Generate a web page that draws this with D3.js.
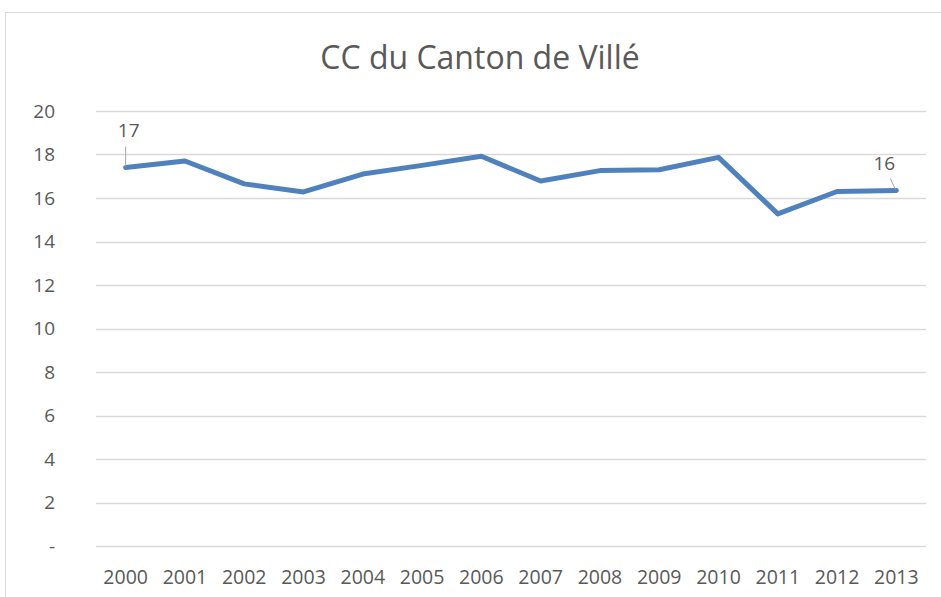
<!DOCTYPE html>
<html>
<head>
<meta charset="utf-8">
<script src="https://cdn.jsdelivr.net/npm/d3@7"></script>
<style>
  body { margin: 0; background: #fff; }
  text { font-family: "Open Sans", "Noto Sans", sans-serif; fill: #595959; }
</style>
</head>
<body>
<svg id="chart"></svg>
<script>
// Data
const years = ['2000', '2001', '2002', '2003', '2004', '2005', '2006',
               '2007', '2008', '2009', '2010', '2011', '2012', '2013'];
const values = [17.4, 17.7, 16.65, 16.28, 17.1, 17.5, 17.92,
                16.78, 17.26, 17.3, 17.87, 15.27, 16.3, 16.35];
const yTicks = [0, 2, 4, 6, 8, 10, 12, 14, 16, 18, 20];
const title = 'CC du Canton de Villé';

const W = 941, H = 597;
const margin = { top: 111, right: 15, bottom: 51, left: 96 };
const width = W - margin.left - margin.right;
const height = H - margin.top - margin.bottom;

const svg = d3.select('#chart')
    .attr('width', W)
    .attr('height', H);

// chart border
svg.append('rect')
    .attr('x', 5.5).attr('y', 12.5)
    .attr('width', 950).attr('height', 600)
    .attr('fill', 'none')
    .attr('stroke', '#d9d9d9');

svg.append('text')
    .attr('x', 480).attr('y', 69)
    .attr('text-anchor', 'middle')
    .style('font-size', '32px')
    .text(title);

const g = svg.append('g')
    .attr('transform', `translate(${margin.left},${margin.top})`);

const x = d3.scaleBand()
    .domain(years)
    .range([0, width]);

const y = d3.scaleLinear()
    .domain([0, 20])
    .range([height, 0]);

// gridlines
g.append('g')
    .selectAll('line')
    .data(yTicks)
    .join('line')
    .attr('x1', 0).attr('x2', width)
    .attr('y1', d => Math.round(y(d)) + 0.5)
    .attr('y2', d => Math.round(y(d)) + 0.5)
    .attr('stroke', '#d9d9d9')
    .attr('stroke-width', 1.5);

// y axis labels
const yAxis = g.append('g')
    .call(d3.axisLeft(y).tickValues(yTicks).tickSize(0).tickPadding(41)
        .tickFormat(d => d === 0 ? '-' : d));
yAxis.select('.domain').remove();
yAxis.selectAll('text')
    .style('font-size', '19px')
    .attr('fill', '#595959');

// x axis labels
const xAxis = g.append('g')
    .attr('transform', `translate(0,${height})`)
    .call(d3.axisBottom(x).tickSize(0).tickPadding(24));
xAxis.select('.domain').remove();
xAxis.selectAll('text')
    .style('font-size', '19.5px')
    .attr('fill', '#595959');

const cx = d => x(d) + x.bandwidth() / 2;

const line = d3.line()
    .x((d, i) => cx(years[i]))
    .y(d => y(d));

g.append('path')
    .datum(values)
    .attr('d', line)
    .attr('fill', 'none')
    .attr('stroke', '#4f81bd')
    .attr('stroke-width', 5)
    .attr('stroke-linejoin', 'round')
    .attr('stroke-linecap', 'round');

// data labels on the first and last points
const first = 0, last = values.length - 1;

g.append('line')
    .attr('x1', cx(years[first])).attr('y1', y(values[first]) - 1)
    .attr('x2', cx(years[first])).attr('y2', y(values[first]) - 21)
    .attr('stroke', '#a6a6a6').attr('stroke-width', 1);
g.append('text')
    .attr('x', cx(years[first]) + 3).attr('y', y(values[first]) - 31)
    .attr('text-anchor', 'middle')
    .style('font-size', '19px')
    .text(Math.round(values[first]));

g.append('line')
    .attr('x1', cx(years[last]) - 1).attr('y1', y(values[last]) - 1)
    .attr('x2', cx(years[last]) - 6).attr('y2', y(values[last]) - 12)
    .attr('stroke', '#a6a6a6').attr('stroke-width', 1);
g.append('text')
    .attr('x', cx(years[last]) - 12).attr('y', y(values[last]) - 20)
    .attr('text-anchor', 'middle')
    .style('font-size', '19px')
    .text(Math.round(values[last]));
</script>
</body>
</html>
